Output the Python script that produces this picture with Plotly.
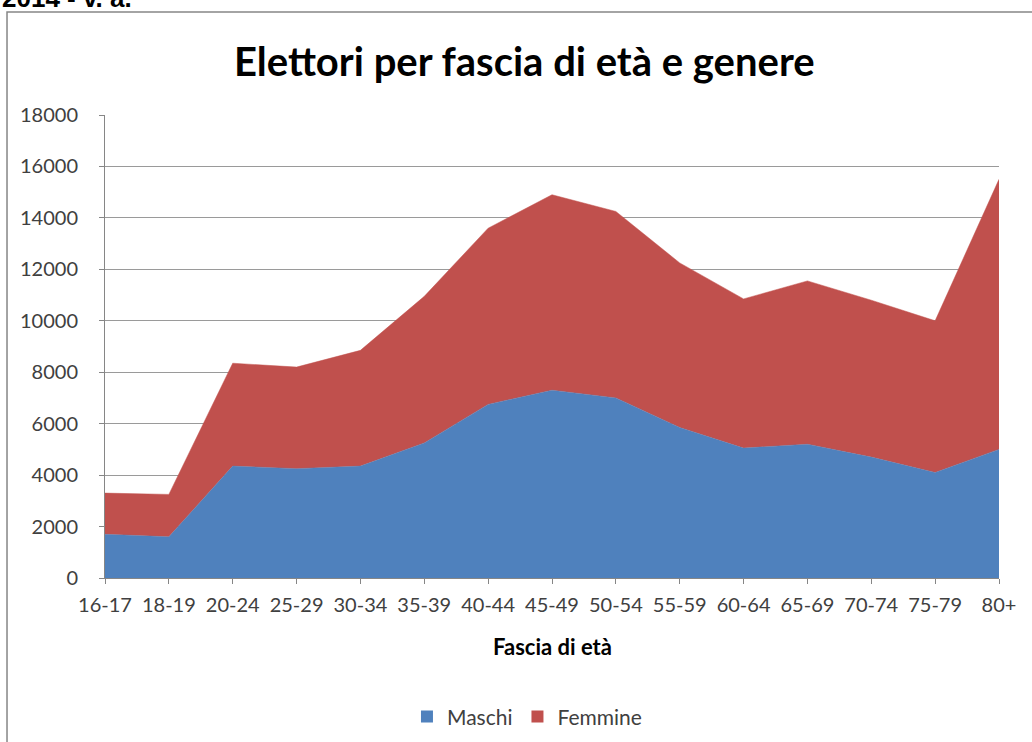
import plotly.graph_objects as go

fasce = ["16-17", "18-19", "20-24", "25-29", "30-34", "35-39", "40-44", "45-49",
         "50-54", "55-59", "60-64", "65-69", "70-74", "75-79", "80+"]
maschi = [1700, 1600, 4350, 4250, 4350, 5250, 6750, 7300,
          7000, 5850, 5050, 5200, 4700, 4100, 5000]
femmine = [1600, 1650, 4000, 3950, 4500, 5700, 6850, 7600,
           7250, 6400, 5800, 6350, 6100, 5900, 10500]

BLUE = "#4F81BD"
RED = "#C0504D"
FONT = "Lato"

fig = go.Figure()
fig.add_trace(go.Scatter(x=fasce, y=maschi, name="Maschi", mode="lines",
                         stackgroup="one", fillcolor=BLUE, showlegend=False,
                         line=dict(color=BLUE, width=0.5)))
fig.add_trace(go.Scatter(x=fasce, y=femmine, name="Femmine", mode="lines",
                         stackgroup="one", fillcolor=RED, showlegend=False,
                         line=dict(color=RED, width=0.5)))
# legend entries with small square swatches like the original
for name, col in [("Maschi", BLUE), ("Femmine", RED)]:
    fig.add_trace(go.Scatter(x=[None], y=[None], name=name, mode="markers",
                             marker=dict(symbol="square", size=12, color=col)))

# plot area: x 105..999 px, y 115..578 px
fig.update_layout(
    width=1032, height=742,
    margin=dict(l=105, r=33, t=115, b=164),
    paper_bgcolor="white", plot_bgcolor="white",
    font=dict(family=FONT, size=20, color="#404040"),
    title=dict(text="<b>Elettori per fascia di età e genere</b>",
               x=0.508, xanchor="center", y=0.917, yanchor="middle",
               font=dict(family=FONT, size=40, color="black")),
    showlegend=True,
    legend=dict(orientation="h", x=0.472, xanchor="center",
                yref="container", y=0.034, yanchor="middle",
                font=dict(family=FONT, size=21, color="#404040"),
                traceorder="normal", itemwidth=30),
    xaxis=dict(type="category", range=[0, 14], showgrid=False, automargin=False,
               showline=True, linecolor="#868686", linewidth=1,
               ticks="outside", ticklen=5, tickcolor="#868686",
               ticklabelstandoff=4,
               tickfont=dict(size=20, color="#404040")),
    yaxis=dict(range=[0, 18000], dtick=2000, tickformat="d", showgrid=True,
               automargin=False, gridcolor="#9a9a9a", gridwidth=1, zeroline=False,
               showline=True, linecolor="#868686", linewidth=1,
               ticks="outside", ticklen=5, tickcolor="#868686",
               ticklabelstandoff=17,
               tickfont=dict(size=20, color="#404040")),
)

fig.add_annotation(text="<b>Fascia di età</b>", xref="paper", yref="paper",
                   x=0.5, y=-0.149, xanchor="center", yanchor="middle",
                   showarrow=False, font=dict(family=FONT, size=22, color="black"))

# heading of the page above the chart, cut off at the top in the original
fig.add_annotation(text="<b>2014 - v. a.</b>", xref="paper", yref="paper",
                   x=-0.1174, y=1.216, xanchor="left", yanchor="bottom",
                   showarrow=False, font=dict(family="Liberation Sans", size=26, color="black"))

# chart frame
fig.add_shape(type="path", xref="paper", yref="paper",
              path="M -0.1096 -0.45 L -0.1096 1.2225 L 1.06 1.2225",
              line=dict(color="#868686", width=1.5))

fig.write_html("out.html", config={"displayModeBar": False},
               post_script="document.body.style.margin='0';")
